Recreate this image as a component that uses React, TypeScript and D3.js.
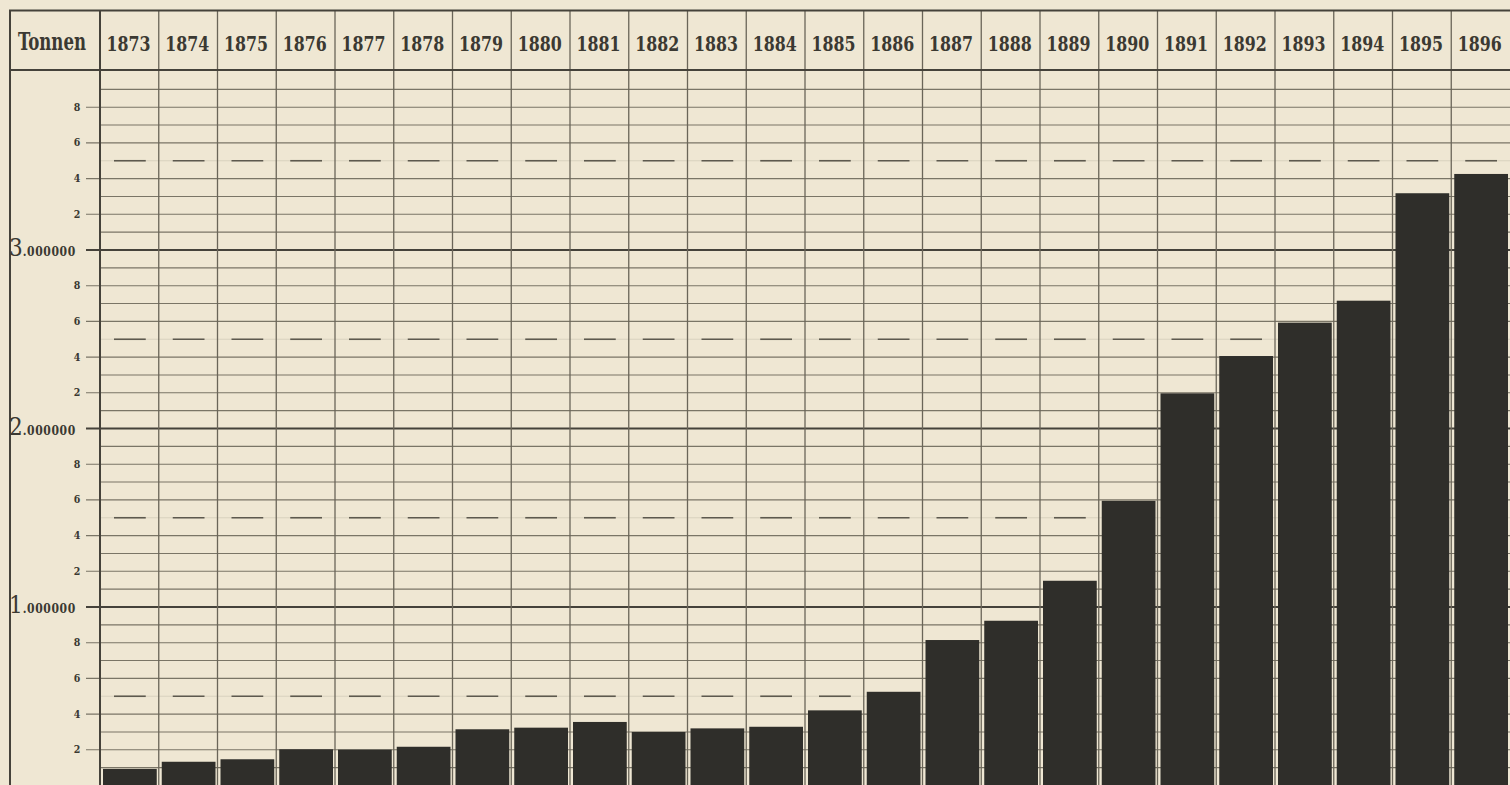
import React from "react";
import * as d3 from "d3";

const years = ["1873","1874","1875","1876","1877","1878","1879","1880","1881","1882","1883","1884","1885","1886","1887","1888","1889","1890","1891","1892","1893","1894","1895","1896"];
const tonnes = [93000,133000,147000,203000,201000,217000,315000,324000,356000,300000,320000,329000,421000,525000,815000,923000,1147000,1595000,2197000,2406000,2593000,2716000,3318000,3426000];
const majorValues = [1000000, 2000000, 3000000];
const majorLabels = ["1", "2", "3"];
const minorDigits = ["2", "4", "6", "8"];
const headerLabel = "Tonnen";

const W = 1510, H = 785;
const BG = "#efe7d3";
const INK = "#3b3932";
const FONT = "'DejaVu Serif Condensed', 'DejaVu Serif', serif";

export default function App() {
  const x = d3.scaleBand<string>().domain(years).range([100, 1510]).paddingInner(0).paddingOuter(0);
  const y = d3.scaleLinear().domain([0, 4000000]).range([785.5, 71.5]);
  const bw = x.bandwidth();

  const hundredK = d3.range(1, 40).map((i) => i * 100000);

  return (
    <svg width={W} height={H} style={{ position: "absolute", left: 0, top: 0, background: BG }}>
      <rect x={0} y={0} width={W} height={H} fill={BG} />
      {/* horizontal grid */}
      {hundredK.map((v) => {
        const yy = y(v);
        const k = Math.round(v / 100000);
        if (k % 10 === 0) {
          return <line key={v} x1={86} x2={W} y1={yy} y2={yy} stroke="#45423a" strokeWidth={2} />;
        }
        if (k % 5 === 0) {
          return (
            <g key={v}>
              <line x1={100} x2={W} y1={yy} y2={yy} stroke="#8a8474" strokeWidth={0.6} opacity={0.35} />
              {years.map((yr) => (
                <line key={yr} x1={(x(yr) as number) + 14} x2={(x(yr) as number) + bw - 13} y1={yy} y2={yy} stroke="#5d594e" strokeWidth={1.6} />
              ))}
            </g>
          );
        }
        const even = k % 2 === 0;
        return <line key={v} x1={even ? 86 : 100} x2={W} y1={yy} y2={yy} stroke="#7a7566" strokeWidth={1.1} />;
      })}
      {/* vertical column lines */}
      {years.map((yr, i) => (i === 0 ? null : (
        <line key={yr} x1={x(yr) as number} x2={x(yr) as number} y1={10} y2={H} stroke="#6a6558" strokeWidth={1.3} />
      )))}
      {/* bars */}
      {years.map((yr, i) => (
        <rect key={yr} x={(x(yr) as number) + 3} y={y(tonnes[i])} width={bw - 5} height={y(0) - y(tonnes[i])} fill="#2f2e2a" />
      ))}
      {/* frame */}
      <line x1={9} x2={W} y1={10.5} y2={10.5} stroke="#45423a" strokeWidth={2} />
      <line x1={9} x2={W} y1={y(4000000) - 1.5} y2={y(4000000) - 1.5} stroke="#45423a" strokeWidth={2} />
      <line x1={10} x2={10} y1={10} y2={H} stroke="#45423a" strokeWidth={2} />
      <line x1={100} x2={100} y1={10} y2={H} stroke="#45423a" strokeWidth={2} />
      {/* header */}
      <text x={18} y={50} fontFamily={FONT} fontWeight="bold" fontSize={24} fill={INK} textLength={68} lengthAdjust="spacingAndGlyphs">{headerLabel}</text>
      {years.map((yr) => (
        <text key={yr} x={(x(yr) as number) + bw / 2 - 1} y={51} textAnchor="middle" fontFamily={FONT} fontWeight="bold" fontSize={20} fill={INK} textLength={44} lengthAdjust="spacingAndGlyphs">{yr}</text>
      ))}
      {/* axis labels */}
      {[0, 1, 2, 3].map((m) =>
        minorDigits.map((dg) => {
          const v = m * 1000000 + Number(dg) * 100000;
          return (
            <text key={v} x={77} y={y(v) + 3.5} textAnchor="middle" fontFamily={FONT} fontWeight="bold" fontSize={10.5} fill={INK}>{dg}</text>
          );
        })
      )}
      {majorValues.map((v, i) => (
        <text key={v} x={9} y={y(v) + 6} fontFamily={FONT} fill={INK}>
          <tspan fontSize={24}>{majorLabels[i]}</tspan>
          <tspan fontSize={12} fontWeight="bold" letterSpacing={0.6}>.000000</tspan>
        </text>
      ))}
    </svg>
  );
}
